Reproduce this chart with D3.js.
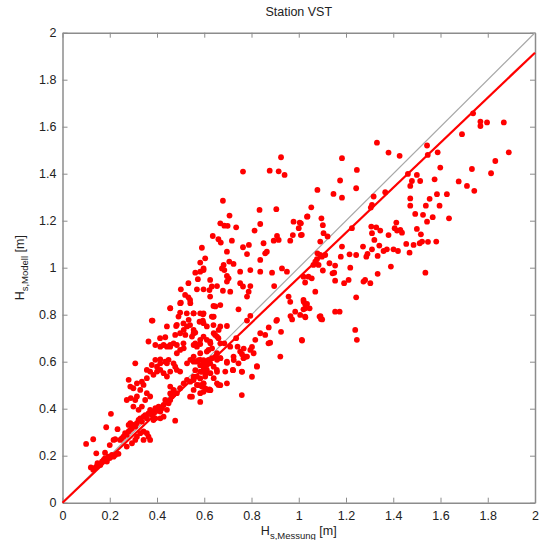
<!DOCTYPE html>
<html>
<head>
<meta charset="utf-8">
<script src="https://cdn.jsdelivr.net/npm/d3@7"></script>
<style>
  body { margin: 0; background: #fff; }
  svg text { font-family: "Liberation Sans", Arial, sans-serif; }
</style>
</head>
<body>
<div id="chart"></div>
<script>
// --- Data ---
const title = "Station VST";
const xTicks = [0, 0.2, 0.4, 0.6, 0.8, 1, 1.2, 1.4, 1.6, 1.8, 2];
const yTicks = [0, 0.2, 0.4, 0.6, 0.8, 1, 1.2, 1.4, 1.6, 1.8, 2];
// regression line end points [x, y]
const fitLine = [[0, 0], [2, 1.915]];
const identityLine = [[0, 0], [2, 2]];

// measured Hs [m]
const measured = [
  0.10,0.13,0.12,0.13,0.14,0.145,0.148,0.16,0.167,0.174,0.18,0.188,0.195,0.20,0.209,0.216,0.223,0.23,0.237,0.143,
  0.18,0.20,0.216,0.223,0.233,0.185,0.205,0.244,0.251,0.258,0.265,0.272,0.28,0.287,0.294,0.28,0.287,0.30,0.308,0.315,
  0.322,0.329,0.336,0.343,0.35,0.357,0.364,0.371,0.378,0.385,0.393,0.40,0.407,0.414,0.421,0.428,0.435,0.442,0.449,0.456,
  0.463,0.47,0.477,0.272,0.294,0.308,0.315,0.329,0.343,0.357,0.364,0.371,0.385,0.393,0.414,0.428,0.343,
  0.272,0.289,0.308,0.315,0.30,0.322,0.336,0.35,0.357,0.371,0.329,0.30,0.287,0.343,0.28,0.315,0.336,0.357,0.308,0.371,
  0.385,0.40,0.414,0.428,0.442,0.456,0.442,0.414,0.40,0.378,0.357,0.393,0.414,0.435,0.449,0.47,0.477,0.484,0.498,0.456,
  0.47,0.484,0.498,0.513,0.527,0.541,0.555,0.569,0.583,0.597,0.611,0.618,0.633,0.647,0.654,0.668,0.527,0.541,0.555,0.569,
  0.583,0.597,0.611,0.626,0.64,0.654,0.583,0.59,0.597,0.604,0.618,0.64,0.555,0.569,
  0.364,0.378,0.393,0.414,0.428,0.442,0.456,0.47,0.484,0.498,0.513,0.477,0.498,0.513,0.527,0.534,0.52,0.548,0.555,0.562,
  0.569,0.583,0.597,0.611,0.626,0.64,0.654,0.555,0.583,0.597,0.611,0.64,0.647,0.484,0.491,0.456,0.498,0.541,0.611,0.633,
  0.654,0.661,0.668,
  0.925,0.764,0.877,0.915,0.94,0.679,0.834,0.905,0.707,0.668,0.685,0.699,0.735,0.837,0.978,1.004,1.035,1.0,0.813,0.636,
  0.66,0.67,0.717,0.908,0.894,0.915,0.975,1.009,0.964,0.59,0.764,0.789,0.696,0.781,0.858,0.865,0.851,0.604,0.837,0.706,
  0.583,0.597,0.682,0.675,0.685,0.724,0.562,0.583,0.597,0.696,0.703,0.696,0.752,0.795,0.837,0.887,0.929,0.95,0.625,0.654,
  0.573,0.533,0.569,0.597,0.622,0.632,0.679,0.71,0.752,0.764,0.795,0.788,0.781,0.896,0.501,0.519,0.533,0.54,0.501,0.625,
  0.639,0.668,0.456,0.745,0.957,0.964,1.021,1.035,1.028,0.985,1.006,1.028,0.498,0.526,0.555,0.597,0.632,0.381,0.442,0.481,
  0.512,0.54,0.555,0.562,0.58,0.594,0.639,0.668,0.696,0.795,0.781,0.908,0.837,0.858,0.872,0.879,0.816,1.014,0.922,0.413,
  0.435,0.456,0.484,0.512,0.555,0.583,0.625,0.646,0.66,0.685,0.71,0.735,0.741,0.752,0.781,0.795,0.809,0.583,0.618,0.597,
  0.625,0.668,0.696,0.724,0.745,0.766,0.653,0.689,0.721,0.759,0.823,0.555,0.59,0.622,0.66,0.696,0.759,0.54,0.456,
  1.738,1.769,1.797,1.769,1.868,1.691,1.889,1.832,1.331,1.38,1.427,1.543,1.588,1.546,1.183,1.246,1.599,1.733,1.814,1.175,
  1.462,1.5,1.479,1.514,1.472,1.575,1.677,1.712,1.743,1.243,1.079,1.147,1.183,1.317,1.366,1.585,1.627,1.472,1.554,1.053,
  1.31,1.305,1.472,1.538,1.596,1.493,1.526,1.037,1.096,1.102,1.105,1.122,1.567,1.543,1.636,1.225,1.413,1.307,1.328,1.345,
  1.31,1.406,1.416,1.43,1.437,1.5,1.517,1.522,1.38,1.009,1.013,1.091,1.183,1.272,1.32,1.341,1.31,1.373,1.359,1.401,
  1.42,1.455,1.486,1.512,1.547,1.582,1.469,1.215,1.243,1.178,1.286,1.291,1.334,1.079,1.091,1.098,1.077,1.07,1.062,1.084,
  1.112,1.13,1.154,1.15,1.218,1.39,1.334,1.536,1.02,1.055,1.027,1.041,1.102,1.143,1.154,1.192,1.211,1.274,1.281,1.303,
  1.07,1.243,1.02,1.027,1.02,1.046,1.027,1.088,1.094,1.154,1.173,1.239,1.246,1.013,
  0.555,0.576,0.583,0.597,0.612,0.562,0.59,0.605,0.555,0.583,0.597,0.576,0.605,0.626,0.668,0.654,0.597,0.548,0.583,0.767,
  0.774,0.76,0.725,0.696,0.722,0.76,0.802,0.823,0.905,0.873,0.925,0.965,0.972,1.092,1.099,0.802,0.595,0.637
];
// modelled Hs [m]
const modelled = [
  0.25,0.27,0.15,0.14,0.15,0.154,0.168,0.16,0.175,0.182,0.19,0.175,0.196,0.19,0.203,0.196,0.203,0.21,0.208,0.21,
  0.213,0.245,0.267,0.27,0.313,0.321,0.378,0.267,0.274,0.281,0.296,0.289,0.303,0.31,0.317,0.331,0.338,0.331,0.324,0.338,
  0.352,0.359,0.345,0.366,0.373,0.359,0.38,0.395,0.373,0.388,0.402,0.395,0.409,0.388,0.402,0.416,0.437,0.395,0.423,0.437,
  0.452,0.459,0.349,0.239,0.253,0.267,0.281,0.296,0.303,0.296,0.281,0.267,0.352,0.359,0.359,0.366,0.267,
  0.437,0.445,0.437,0.452,0.409,0.395,0.409,0.437,0.466,0.452,0.48,0.487,0.494,0.501,0.523,0.508,0.515,0.53,0.593,0.558,
  0.544,0.558,0.565,0.551,0.537,0.558,0.593,0.593,0.579,0.586,0.565,0.608,0.61,0.60,0.608,0.593,0.579,0.565,0.558,0.494,
  0.48,0.466,0.487,0.508,0.523,0.515,0.53,0.537,0.558,0.579,0.586,0.608,0.615,0.622,0.608,0.615,0.593,0.608,0.622,0.60,
  0.608,0.593,0.565,0.551,0.53,0.508,0.466,0.494,0.508,0.537,0.48,0.579,0.48,0.501,
  0.686,0.775,0.671,0.664,0.671,0.664,0.664,0.678,0.636,0.65,0.657,0.714,0.721,0.735,0.75,0.778,0.714,0.707,0.721,0.678,
  0.664,0.693,0.707,0.693,0.678,0.721,0.707,0.806,0.806,0.764,0.75,0.792,0.835,0.757,0.792,0.828,0.849,0.849,0.643,0.657,
  0.636,0.735,0.678,
  1.47,1.409,1.413,1.41,1.395,1.285,1.246,1.249,1.222,1.189,1.179,1.178,1.172,1.186,1.196,1.192,1.217,1.168,1.158,1.135,
  1.121,1.107,1.115,1.135,1.115,1.118,1.139,1.139,1.115,1.085,1.087,1.097,1.068,1.058,1.061,1.068,1.104,1.04,1.033,1.026,
  1.022,0.997,1.012,0.997,0.99,1.016,0.979,0.983,0.99,0.965,0.955,0.941,0.983,0.99,0.983,0.979,0.997,0.983,0.948,0.922,
  0.951,0.934,0.908,0.908,0.905,0.92,0.902,0.898,0.934,0.92,0.922,0.898,0.877,0.922,0.908,0.884,0.874,0.863,0.851,0.877,
  0.837,0.841,0.827,0.823,0.877,0.855,0.855,0.846,0.827,0.813,0.799,0.789,0.809,0.806,0.806,0.806,0.792,0.775,0.75,0.752,
  0.763,0.756,0.735,0.724,0.77,0.775,0.756,0.75,0.752,0.795,0.775,0.778,0.721,0.714,0.678,0.681,0.693,0.69,0.622,0.70,
  0.704,0.671,0.671,0.678,0.671,0.675,0.685,0.714,0.70,0.678,0.664,0.70,0.664,0.643,0.622,0.65,0.636,0.636,0.65,0.607,
  0.593,0.615,0.60,0.622,0.593,0.615,0.565,0.558,0.565,0.558,0.579,0.522,0.501,0.482,0.501,0.508,0.458,0.451,0.465,
  1.657,1.622,1.618,1.603,1.618,1.568,1.491,1.454,1.532,1.49,1.476,1.52,1.491,1.48,1.466,1.416,1.426,1.42,1.402,1.371,
  1.399,1.395,1.369,1.369,1.348,1.376,1.367,1.348,1.327,1.338,1.331,1.314,1.298,1.303,1.321,1.313,1.313,1.295,1.293,1.257,
  1.267,1.256,1.264,1.264,1.264,1.229,1.225,1.218,1.21,1.181,1.147,1.133,1.215,1.196,1.21,1.168,1.192,1.175,1.172,1.158,
  1.147,1.168,1.158,1.161,1.149,1.165,1.142,1.111,1.139,1.189,1.14,1.111,1.09,1.09,1.118,1.094,1.078,1.078,1.071,1.078,
  1.071,1.101,1.097,1.104,1.11,1.111,1.064,1.057,1.054,1.047,1.047,1.059,1.05,1.061,1.054,1.047,1.036,1.026,1.012,1.012,
  1.054,1.019,1.009,0.979,1.0,1.005,0.974,0.979,0.962,0.955,0.937,0.962,0.988,0.976,0.945,0.934,0.948,0.941,0.948,0.934,
  0.898,0.874,0.863,0.846,0.823,0.827,0.792,0.792,0.782,0.813,0.813,0.735,0.693,0.693,
  0.60,0.607,0.585,0.578,0.592,0.564,0.557,0.55,0.536,0.529,0.507,0.50,0.486,0.479,0.50,0.557,0.472,0.451,0.429,0.656,
  0.621,0.632,0.607,0.595,0.564,0.557,0.536,0.581,0.774,0.746,0.727,0.794,0.78,0.794,0.78,0.663,0.802,0.791
];

// --- Layout ---
const W = 545, H = 540;
const margin = { top: 32.7, right: 10, bottom: 37.3, left: 62.5 };
const width = W - margin.left - margin.right;
const height = H - margin.top - margin.bottom;

const svg = d3.select("#chart").append("svg")
  .attr("width", W)
  .attr("height", H);

const g = svg.append("g")
  .attr("transform", `translate(${margin.left},${margin.top})`);

const xScale = d3.scaleLinear().domain([0, 2]).range([0, width]);
const yScale = d3.scaleLinear().domain([0, 2]).range([height, 0]);
const fmt = d => d3.format("~g")(d);

// --- Axes (ticks inward on all four sides, like a MATLAB box) ---
const axisColor = "#8c8c8c";
function styleAxis(sel, showLabels) {
  sel.select(".domain").attr("stroke", axisColor).attr("stroke-width", 1.5);
  sel.selectAll(".tick line").attr("stroke", axisColor);
  sel.selectAll(".tick text")
    .attr("fill", "#222")
    .attr("font-size", 12.5)
    .style("display", showLabels ? null : "none");
}

g.append("g")
  .attr("transform", `translate(0,${height})`)
  .call(d3.axisBottom(xScale).tickValues(xTicks).tickFormat(fmt).tickSizeInner(-5).tickSizeOuter(0).tickPadding(8))
  .call(s => styleAxis(s, true));

g.append("g")
  .call(d3.axisTop(xScale).tickValues(xTicks).tickSizeInner(-5).tickSizeOuter(0))
  .call(s => styleAxis(s, false));

g.append("g")
  .call(d3.axisLeft(yScale).tickValues(yTicks).tickFormat(fmt).tickSizeInner(-5).tickSizeOuter(0).tickPadding(6))
  .call(s => styleAxis(s, true));

g.append("g")
  .attr("transform", `translate(${width},0)`)
  .call(d3.axisRight(yScale).tickValues(yTicks).tickSizeInner(-5).tickSizeOuter(0))
  .call(s => styleAxis(s, false));

// --- Lines ---
const line = d3.line().x(d => xScale(d[0])).y(d => yScale(d[1]));

g.append("path")
  .datum(identityLine)
  .attr("d", line)
  .attr("fill", "none")
  .attr("stroke", "#a8a8a8")
  .attr("stroke-width", 1.2);

// --- Points ---
const points = measured.map((m, i) => ({ x: m, y: modelled[i] }));
g.selectAll(".pt")
  .data(points)
  .enter()
  .append("circle")
  .attr("class", "pt")
  .attr("cx", d => xScale(d.x))
  .attr("cy", d => yScale(d.y))
  .attr("r", 2.9)
  .attr("fill", "#ff0000");

g.append("path")
  .datum(fitLine)
  .attr("d", line)
  .attr("fill", "none")
  .attr("stroke", "#ff0000")
  .attr("stroke-width", 2.2);

// --- Text ---
svg.append("text")
  .attr("x", margin.left + width / 2)
  .attr("y", 16)
  .attr("text-anchor", "middle")
  .attr("font-size", 12.5)
  .attr("fill", "#222")
  .text(title);

const xLab = svg.append("text")
  .attr("x", margin.left + width / 2)
  .attr("y", 535)
  .attr("text-anchor", "middle")
  .attr("font-size", 12.5)
  .attr("fill", "#222");
xLab.append("tspan").text("H");
xLab.append("tspan").attr("dy", 4).attr("font-size", 9.5).text("s,Messung");
xLab.append("tspan").attr("dy", -4).text(" [m]");

const yLab = svg.append("text")
  .attr("transform", `translate(24,${margin.top + height / 2}) rotate(-90)`)
  .attr("text-anchor", "middle")
  .attr("font-size", 12.5)
  .attr("fill", "#222");
yLab.append("tspan").text("H");
yLab.append("tspan").attr("dy", 4).attr("font-size", 9.5).text("s,Modell");
yLab.append("tspan").attr("dy", -4).text(" [m]");
</script>
</body>
</html>
